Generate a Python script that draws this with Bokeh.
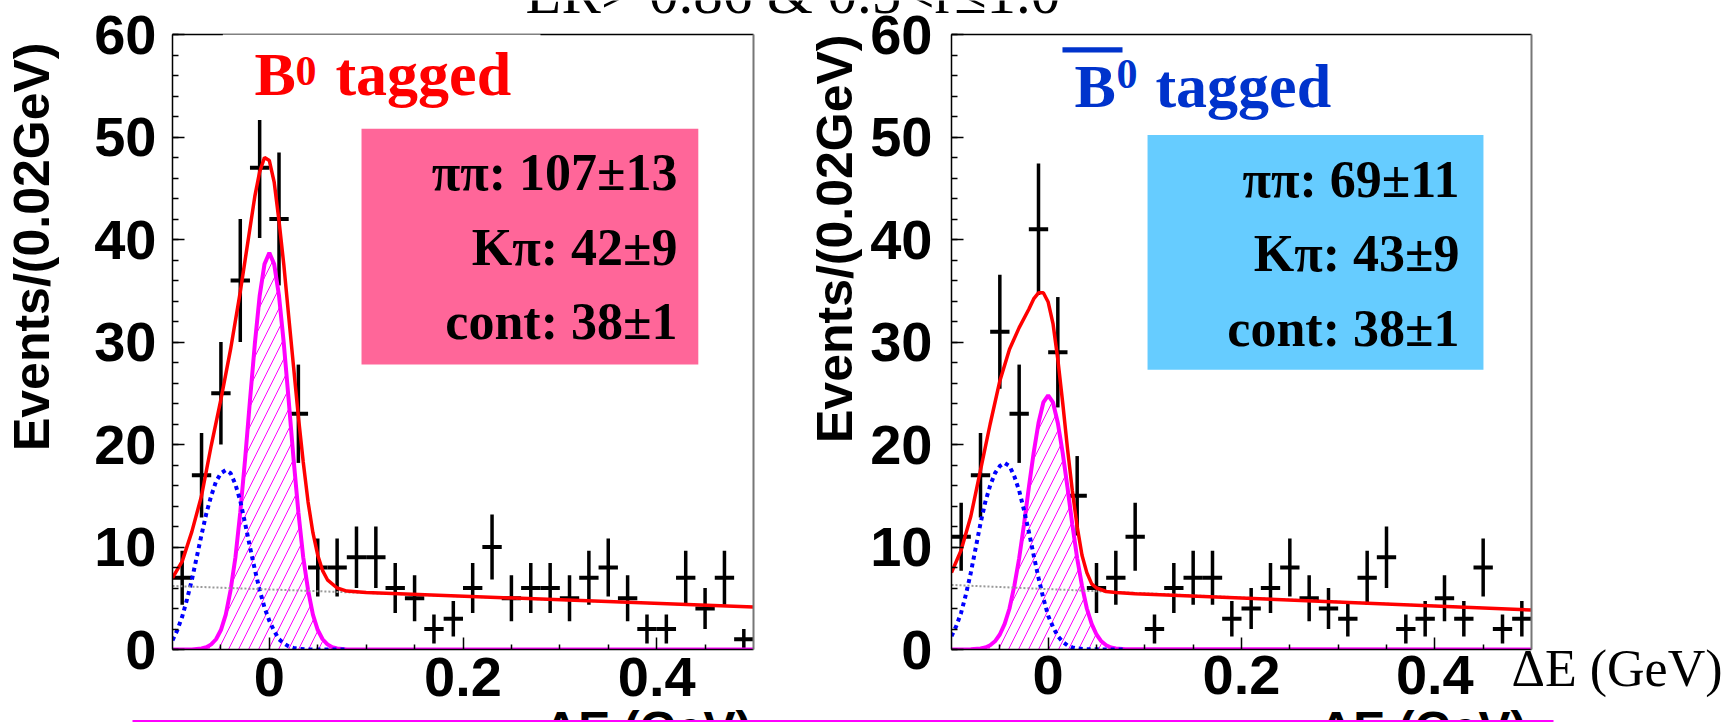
import math
import numpy as np
from bokeh.plotting import figure
from bokeh.layouts import column, row
from bokeh.models import (Range1d, SingleIntervalTicker, FixedTicker, LinearAxis,
                          BoxAnnotation, Label, Title)
from bokeh.embed import file_html
from bokeh.resources import INLINE

# ---------------- data ----------------
BIN_X = [-0.09, -0.07, -0.05, -0.03, -0.01, 0.01, 0.03, 0.05, 0.07, 0.09,
         0.11, 0.13, 0.15, 0.17, 0.19, 0.21, 0.23, 0.25, 0.27, 0.29,
         0.31, 0.33, 0.35, 0.37, 0.39, 0.41, 0.43, 0.45, 0.47, 0.49]
BIN_HALF = 0.01
B0_COUNTS = [7, 17, 25, 36, 47, 42, 23, 8, 8, 9, 9, 6, 5, 2, 3, 6, 10, 5, 6, 6,
             5, 7, 8, 5, 2, 2, 7, 4, 7, 1]
B0BAR_COUNTS = [11, 17, 31, 23, 41, 29, 15, 6, 7, 11, 2, 6, 7, 7, 3, 4, 6, 8, 5, 4,
                3, 7, 9, 2, 3, 5, 3, 8, 2, 3]

# pi pi signal component (magenta, hatched)
SIG_X = [-0.10, -0.08, -0.07, -0.065, -0.06, -0.055, -0.05, -0.045, -0.04, -0.035,
         -0.03, -0.025, -0.02, -0.015, -0.01, -0.005, 0.0, 0.005, 0.01, 0.015,
         0.02, 0.025, 0.03, 0.035, 0.04, 0.045, 0.05, 0.055, 0.06, 0.065,
         0.07, 0.08, 0.50]
B0_SIG = [0, 0.01, 0.1, 0.22, 0.5, 1.0, 1.9, 3.4, 5.8, 9.0,
          13.4, 18.6, 24.3, 29.8, 34.5, 37.6, 38.7, 37.6, 34.5, 29.8,
          24.3, 18.6, 13.4, 9.0, 5.8, 3.4, 1.9, 1.0, 0.5, 0.22,
          0.1, 0.01, 0]
B0BAR_SIG = [0, 0.02, 0.1, 0.2, 0.42, 0.8, 1.46, 2.5, 4.0, 6.2,
             8.9, 12.2, 15.8, 19.2, 22.1, 24.1, 24.8, 24.1, 22.1, 19.2,
             15.8, 12.2, 8.9, 6.2, 4.0, 2.5, 1.46, 0.8, 0.42, 0.2,
             0.1, 0.02, 0]

# K pi component (blue dotted)
KPI_X = [-0.100, -0.095, -0.090, -0.085, -0.080, -0.075, -0.070, -0.065, -0.060, -0.055,
         -0.050, -0.045, -0.040, -0.035, -0.030, -0.025, -0.020, -0.015, -0.010, -0.005,
         0.000, 0.005, 0.010, 0.015, 0.020, 0.025, 0.030, 0.040, 0.080]
B0_KPI = [0.9, 1.9, 3.2, 4.9, 6.8, 9.0, 11.2, 13.3, 15.0, 16.4,
          17.2, 17.5, 17.2, 16.1, 14.5, 12.3, 10.0, 7.8, 5.8, 4.1,
          2.8, 1.8, 1.0, 0.6, 0.3, 0.15, 0.07, 0.0, 0.0]
B0BAR_KPI = [1.3, 2.3, 3.6, 5.4, 7.5, 9.9, 12.3, 14.4, 16.0, 17.2,
             17.9, 18.2, 17.9, 16.9, 15.5, 13.6, 11.5, 9.2, 7.0, 5.0,
             3.3, 2.2, 1.3, 0.75, 0.4, 0.2, 0.1, 0.02, 0.0]

# continuum component (grey dotted)
CONT_X = [-0.10, 0.50]
B0_CONT = [6.2, 4.15]
B0BAR_CONT = [6.3, 3.85]

# total fit (red)
B0_TOT_X = [-0.100, -0.090, -0.080, -0.070, -0.060, -0.050, -0.040, -0.030, -0.025, -0.020,
            -0.015, -0.010, -0.005, 0.000, 0.005, 0.010, 0.015, 0.020, 0.025, 0.030,
            0.035, 0.040, 0.045, 0.050, 0.055, 0.060, 0.070, 0.080, 0.100, 0.500]
B0_TOT = [7.0, 8.6, 11.5, 15.0, 19.9, 24.4, 29.3, 34.9, 38.0, 41.1,
          44.2, 46.6, 48.0, 47.7, 45.6, 41.8, 37.5, 32.5, 27.6, 22.7,
          18.3, 14.4, 11.4, 9.2, 7.7, 6.8, 6.0, 5.7, 5.55, 4.15]
B0BAR_TOT_X = [-0.100, -0.090, -0.080, -0.070, -0.060, -0.050, -0.040, -0.030, -0.020, -0.015,
               -0.010, -0.005, 0.000, 0.005, 0.010, 0.015, 0.020, 0.025, 0.030, 0.035,
               0.040, 0.045, 0.050, 0.060, 0.070, 0.090, 0.500]
B0BAR_TOT = [7.5, 9.7, 13.0, 17.5, 22.0, 26.2, 29.3, 31.4, 33.2, 34.2,
             34.8, 34.8, 33.9, 31.8, 28.3, 24.1, 19.6, 15.5, 12.0, 9.2,
             7.5, 6.4, 6.0, 5.66, 5.56, 5.45, 3.85]

X_TICKS = [0.0, 0.2, 0.4]
X_TICK_LABELS = ["0", "0.2", "0.4"]
X_MINOR = [-0.05, 0.05, 0.1, 0.15, 0.25, 0.3, 0.35, 0.45]
Y_TITLE = "Events/(0.02GeV)"
X_TITLE = "\u0394E (GeV)"
TITLE = "LR> 0.86 & 0.5<r\u22641.0"
B0_YIELDS = ["\u03c0\u03c0: 107\u00b113", "K\u03c0: 42\u00b19", "cont: 38\u00b11"]
B0BAR_YIELDS = ["\u03c0\u03c0: 69\u00b111", "K\u03c0: 43\u00b19", "cont: 38\u00b11"]

SANS = "Liberation Sans"
SERIF = "Liberation Serif"
H = 688   # panels span y = 14 .. 702 of the page


def label(p, txt, x, y, font, size, color, style="bold", align="left", angle=0.0):
    p.add_layout(Label(x=x, y=y, text=txt, text_font=font, text_font_style=style,
                       text_font_size=size, text_color=color, text_align=align,
                       text_baseline="middle", angle=angle, level="annotation"))


def make_panel(width, bl, br, bt, bb, counts, sig, kpi, cont, tot_x, tot,
               ytick_standoff, xtick_standoff, title_standoff):
    p = figure(width=width, height=H, x_range=Range1d(-0.1, 0.5), y_range=Range1d(0, 60),
               output_backend="svg", toolbar_location=None, title=None,
               min_border_left=bl, min_border_right=br, min_border_top=bt, min_border_bottom=bb)
    p.xgrid.visible = False
    p.ygrid.visible = False
    p.outline_line_color = None
    p.background_fill_color = "white"
    p.border_fill_color = "white"

    ya = p.yaxis[0]
    ya.ticker = SingleIntervalTicker(interval=10, num_minor_ticks=5)
    ya.major_tick_in = 12
    ya.major_tick_out = 0
    ya.minor_tick_in = 6
    ya.minor_tick_out = 0
    ya.axis_line_width = 1.5
    ya.major_tick_line_width = 1.5
    ya.minor_tick_line_width = 1.5
    ya.major_label_text_font = SANS
    ya.major_label_text_font_style = "bold"
    ya.major_label_text_font_size = "56px"
    ya.major_label_text_color = "black"
    ya.major_label_standoff = ytick_standoff

    xa = p.xaxis[0]
    xa.ticker = FixedTicker(ticks=X_TICKS, minor_ticks=X_MINOR)
    xa.major_label_overrides = {t: s for t, s in zip(X_TICKS, X_TICK_LABELS)}
    xa.major_tick_in = 12
    xa.major_tick_out = 0
    xa.minor_tick_in = 5
    xa.minor_tick_out = 0
    xa.axis_line_width = 1.5
    xa.major_tick_line_width = 1.5
    xa.minor_tick_line_width = 1.5
    xa.major_label_text_font = SANS
    xa.major_label_text_font_style = "bold"
    xa.major_label_text_font_size = "56px"
    xa.major_label_text_color = "black"
    xa.major_label_standoff = xtick_standoff

    if title_standoff is not None:
        p.add_layout(Title(text=Y_TITLE, align="right", standoff=title_standoff,
                           text_font=SANS, text_font_style="bold", text_font_size="50px",
                           text_color="black"), "left")

    # frame edges (top and right)
    top = LinearAxis(ticker=FixedTicker(ticks=[]), axis_line_color="black", axis_line_width=1.5)
    right = LinearAxis(ticker=FixedTicker(ticks=[]), axis_line_color="#777777", axis_line_width=2)
    p.add_layout(top, "above")
    p.add_layout(right, "right")

    # data points
    x = np.array(BIN_X)
    c = np.array(counts, dtype=float)
    e = np.sqrt(c)
    p.segment(x0=x, y0=c - e, x1=x, y1=c + e, line_color="black", line_width=3.5)
    p.segment(x0=x - BIN_HALF, y0=c, x1=x + BIN_HALF, y1=c, line_color="black", line_width=4)

    # components
    p.varea(x=SIG_X, y1=[0] * len(SIG_X), y2=sig, fill_color=None, fill_alpha=0,
            hatch_pattern="/", hatch_color="#ff00ff", hatch_scale=20, hatch_weight=1)
    p.line(SIG_X, sig, line_color="#ff00ff", line_width=4)
    p.line(KPI_X, kpi, line_color="#0000ff", line_width=4, line_dash="4 4")
    p.line(CONT_X, cont, line_color="#999999", line_width=2, line_dash="2 2")
    p.line(tot_x, tot, line_color="#ff0000", line_width=3.5)
    return p


# left y-title strip (page x 0..70)
py = figure(width=70, height=H, x_range=Range1d(0, 70), y_range=Range1d(0, H),
            output_backend="svg", toolbar_location=None, min_border=0, title=None)
py.axis.visible = False
py.grid.visible = False
py.outline_line_color = None
label(py, Y_TITLE, 31, 222, SANS, "50px", "black", align="left", angle=math.pi / 2)

p1 = make_panel(720, 102, 37, 18, 53, B0_COUNTS, B0_SIG, B0_KPI, B0_CONT, B0_TOT_X, B0_TOT,
                16, 8, None)
p2 = make_panel(937, 161, 196, 20, 50, B0BAR_COUNTS, B0BAR_SIG, B0BAR_KPI, B0BAR_CONT,
                B0BAR_TOT_X, B0BAR_TOT, 19, 6, 10)

# serif x title at the right end of the second panel (label of an invisible right axis);
# an empty first line pushes the text just below the frame's bottom edge
xt = LinearAxis(ticker=FixedTicker(ticks=[]), axis_line_color=None,
                axis_label="\n" + X_TITLE, axis_label_orientation="horizontal",
                axis_label_align="start", axis_label_standoff=-20,
                axis_label_text_font=SERIF, axis_label_text_font_style="normal",
                axis_label_text_line_height=0.65,
                axis_label_text_font_size="52px", axis_label_text_color="black")
p2.add_layout(xt, "right")

# ---- left panel labels ----
p1.add_layout(BoxAnnotation(left=-0.048, right=0.28, bottom=51.65, top=62,
                            fill_color="white", fill_alpha=1, line_color=None, level="annotation"))
label(p1, "B", -0.0153, 56.1, SERIF, "62px", "#ff0000")
label(p1, "0", 0.027, 56.44, SERIF, "42px", "#ff0000")
label(p1, "tagged", 0.0683, 56.1, SERIF, "62px", "#ff0000")
p1.add_layout(BoxAnnotation(left=0.0952, right=0.443, bottom=27.8, top=50.8,
                            fill_color="#ff6699", fill_alpha=1, line_color=None))
for txt, yy in zip(B0_YIELDS, [46.55, 39.26, 31.96]):
    label(p1, txt, 0.4215, yy, SERIF, "52px", "black", align="right")

# ---- right panel labels ----
p2.add_layout(BoxAnnotation(left=0.0148, right=0.0769, bottom=58.25, top=58.75,
                            fill_color="#0033cc", fill_alpha=1, line_color=None))
label(p2, "B", 0.0272, 54.96, SERIF, "62px", "#0033cc")
label(p2, "0", 0.0707, 56.14, SERIF, "42px", "#0033cc")
label(p2, "tagged", 0.111, 54.96, SERIF, "62px", "#0033cc")
p2.add_layout(BoxAnnotation(left=0.1028, right=0.4503, bottom=27.3, top=50.2,
                            fill_color="#66ccff", fill_alpha=1, line_color=None))
for txt, yy in zip(B0BAR_YIELDS, [45.88, 38.6, 31.32]):
    label(p2, txt, 0.4255, yy, SERIF, "52px", "black", align="right")

# ---- title strip (top, cut by the page edge) ----
pt = figure(width=1727, height=14, x_range=Range1d(0, 1727), y_range=Range1d(0, 14),
            output_backend="svg", toolbar_location=None, min_border=0, title=None)
pt.axis.visible = False
pt.grid.visible = False
pt.outline_line_color = None
label(pt, TITLE, 525, 21.4, SERIF, "59px", "black", style="normal")

# ---- bottom strip: axis titles cut by the page edge, magenta rule ----
pb = figure(width=1727, height=20, x_range=Range1d(0, 1727), y_range=Range1d(0, 20),
            output_backend="svg", toolbar_location=None, min_border=0, title=None)
pb.axis.visible = False
pb.grid.visible = False
pb.outline_line_color = None
for xr in [751, 1526]:
    label(pb, X_TITLE, xr, -5.8, SANS, "48px", "black", align="right")
pb.add_layout(BoxAnnotation(left=132, right=1553, bottom=0, top=2.5, fill_color="#ff00ff",
                            fill_alpha=1, line_color=None))

layout = column(pt, row(py, p1, p2), pb)
open("out.html", "w").write(file_html(layout, INLINE))
